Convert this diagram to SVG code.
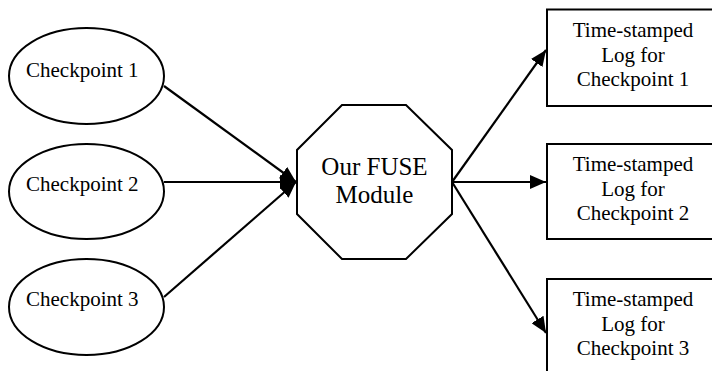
<svg xmlns="http://www.w3.org/2000/svg" width="712" height="371" viewBox="0 0 712 371">
<defs>
<style>
.shape{fill:#fff;stroke:#000;stroke-width:2}
text{font-family:'Liberation Serif','Times New Roman','DejaVu Serif',serif;font-size:21px;fill:#000}
.c{text-anchor:middle}
.big{font-size:25px}
.edge{stroke:#000;stroke-width:2.2;fill:none}
</style>
<marker id="ah" markerUnits="userSpaceOnUse" markerWidth="16" markerHeight="14" refX="16" refY="7" orient="auto">
<path d="M0,0 L16,7 L0,14 Z" fill="#000"/>
</marker>
</defs>
<rect width="712" height="371" fill="#fff"/>
<g id="connectors">
<path class="edge" d="M164,86 L296,182" marker-end="url(#ah)"/>
<path class="edge" d="M164,182 L296,182" marker-end="url(#ah)"/>
<path class="edge" d="M164,297 L296,182" marker-end="url(#ah)"/>
<path class="edge" d="M452,182 L546,50" marker-end="url(#ah)"/>
<path class="edge" d="M452,182 L546,182" marker-end="url(#ah)"/>
<path class="edge" d="M452,182 L546,333" marker-end="url(#ah)"/>
</g>
<g id="cp1">
<ellipse class="shape" cx="86.5" cy="76" rx="77.5" ry="48"/>
<text x="26" y="77" font-family="Liberation Serif, serif">Checkpoint 1</text>
</g>
<g id="cp2">
<ellipse class="shape" cx="86.5" cy="191.5" rx="77.5" ry="47.5"/>
<text x="26" y="191" font-family="Liberation Serif, serif">Checkpoint 2</text>
</g>
<g id="cp3">
<ellipse class="shape" cx="86.5" cy="307" rx="77.5" ry="48"/>
<text x="26" y="306" font-family="Liberation Serif, serif">Checkpoint 3</text>
</g>
<g id="fuse">
<polygon class="shape" points="342,105 406,105 452,150 452,214 406,259 342,259 297,214 297,150"/>
<text class="c big" x="374.5" y="175">Our FUSE</text>
<text class="c big" x="374.5" y="203">Module</text>
</g>
<g id="log1">
<rect class="shape" x="547" y="9.5" width="170" height="96.5"/>
<text class="c" x="633" y="37">Time-stamped</text>
<text class="c" x="633" y="62">Log for</text>
<text class="c" x="633" y="86">Checkpoint 1</text>
</g>
<g id="log2">
<rect class="shape" x="547" y="144" width="170" height="95"/>
<text class="c" x="633" y="171">Time-stamped</text>
<text class="c" x="633" y="196">Log for</text>
<text class="c" x="633" y="220">Checkpoint 2</text>
</g>
<g id="log3">
<rect class="shape" x="547" y="279" width="170" height="100"/>
<text class="c" x="633" y="306">Time-stamped</text>
<text class="c" x="633" y="331">Log for</text>
<text class="c" x="633" y="355">Checkpoint 3</text>
</g>
</svg>
